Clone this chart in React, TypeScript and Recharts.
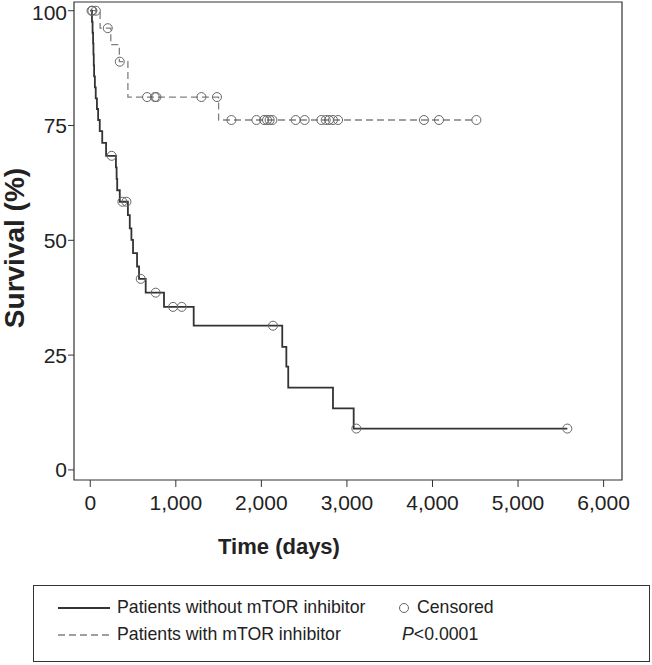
import React from "react";
import {
  ComposedChart,
  Line,
  Scatter,
  XAxis,
  YAxis,
  ReferenceArea,
  Label,
} from "recharts";

// Kaplan-Meier steps, patients without mTOR inhibitor
const noMtorTimes = [0, 20, 27, 33, 37, 41, 45, 54, 64, 78, 92, 111, 140, 185, 300, 308, 315, 345, 440, 462, 481, 500, 547, 570, 648, 862, 1209, 2244, 2292, 2314, 2837, 3079, 5576];
const noMtorSurv = [100, 97.6, 95.2, 92.9, 90.5, 88.1, 85.7, 83.3, 80.9, 78.6, 76.2, 73.8, 71.2, 68.4, 65.9, 63.4, 60.9, 58.4, 55.5, 52.6, 50.1, 47.2, 44.3, 41.6, 38.6, 35.5, 31.4, 26.8, 22.5, 17.9, 13.4, 9.0, 9.0];
const noMtorCensTimes = [15, 250, 376, 423, 590, 765, 968, 1069, 2136, 3110, 5576];
const noMtorCensSurv = [100, 68.4, 58.4, 58.4, 41.6, 38.6, 35.5, 35.5, 31.4, 9.0, 9.0];

// patients with mTOR inhibitor
const mtorTimes = [0, 115, 240, 340, 440, 1500, 4515];
const mtorSurv = [100, 96.2, 92.6, 88.9, 81.2, 76.2, 76.2];
const mtorCensTimes = [25, 65, 205, 345, 664, 754, 773, 1299, 1481, 1650, 1942, 2031, 2066, 2097, 2129, 2401, 2506, 2701, 2752, 2790, 2837, 2896, 3900, 4076, 4513];
const mtorCensSurv = [100, 100, 96.2, 88.9, 81.2, 81.2, 81.2, 81.2, 81.2, 76.2, 76.2, 76.2, 76.2, 76.2, 76.2, 76.2, 76.2, 76.2, 76.2, 76.2, 76.2, 76.2, 76.2, 76.2, 76.2];

const xTicks = [0, 1000, 2000, 3000, 4000, 5000, 6000];
const yTicks = [0, 25, 50, 75, 100];

const zip = (ts: number[], vs: number[]) => ts.map((t, i) => ({ t, v: vs[i] }));

const FONT = "'Liberation Sans', Arial, sans-serif";

const censorShape = (p: any) => (
  <circle cx={p.cx} cy={p.cy} r={4.5} fill="none" stroke="#666" strokeWidth={1} />
);

export default function App() {
  const noMtor = zip(noMtorTimes, noMtorSurv);
  const noMtorCens = zip(noMtorCensTimes, noMtorCensSurv);
  const mtor = zip(mtorTimes, mtorSurv);
  const mtorCens = zip(mtorCensTimes, mtorCensSurv);
  const tickStyle = { fill: "#222", fontSize: 21, fontFamily: FONT };

  return (
    <div style={{ position: "absolute", left: 0, top: 0, width: 652, height: 665, background: "#fff", fontFamily: FONT }}>
      <ComposedChart width={652} height={570} margin={{ top: 2, right: 30, bottom: 0, left: 0 }}>
        <XAxis
          type="number"
          dataKey="t"
          domain={[-190, 6215]}
          ticks={xTicks}
          allowDataOverflow
          tick={tickStyle}
          tickSize={7}
          tickMargin={8}
          tickFormatter={(v: number) => v.toLocaleString("en-US")}
          axisLine={false}
          tickLine={{ stroke: "#333" }}
          height={90}
        >
          <Label
            content={() => (
              <text x={279} y={554} textAnchor="middle" fontSize={22} fontWeight="bold" fontFamily={FONT} fill="#222">
                Time (days)
              </text>
            )}
          />
        </XAxis>
        <YAxis
          type="number"
          dataKey="v"
          domain={[-2.2, 101.9]}
          ticks={yTicks}
          allowDataOverflow
          tick={tickStyle}
          tickSize={6}
          tickMargin={1}
          axisLine={false}
          tickLine={{ stroke: "#333" }}
          width={74}
        >
          <Label
            content={() => (
              <text x={24} y={248} transform="rotate(-90 24 248)" textAnchor="middle" fontSize={28} fontWeight="bold" fontFamily={FONT} fill="#222">
                Survival (%)
              </text>
            )}
          />
        </YAxis>
        <ReferenceArea x1={-190} x2={6215} y1={-2.2} y2={101.9} fill="none" stroke="#333" strokeWidth={1.2} />
        <Line
          data={mtor}
          dataKey="v"
          type="stepAfter"
          stroke="#808080"
          strokeWidth={1.3}
          strokeDasharray="7 4"
          dot={false}
          isAnimationActive={false}
        />
        <Line
          data={noMtor}
          dataKey="v"
          type="stepAfter"
          stroke="#333"
          strokeWidth={1.8}
          dot={false}
          isAnimationActive={false}
        />
        <Scatter data={mtorCens} dataKey="v" shape={censorShape} isAnimationActive={false} />
        <Scatter data={noMtorCens} dataKey="v" shape={censorShape} isAnimationActive={false} />
      </ComposedChart>
      <div
        style={{
          position: "absolute",
          left: 33,
          top: 585,
          width: 617,
          height: 77,
          border: "1px solid #333",
          boxSizing: "border-box",
          fontSize: 17.7,
          color: "#222",
        }}
      >
        <svg width={60} height={56} style={{ position: "absolute", left: 24, top: 8 }}>
          <line x1={0} y1={14} x2={52} y2={14} stroke="#333" strokeWidth={1.8} />
          <line x1={0} y1={41} x2={52} y2={41} stroke="#808080" strokeWidth={1.3} strokeDasharray="7 4" />
        </svg>
        <div style={{ position: "absolute", left: 83, top: 11 }}>Patients without mTOR inhibitor</div>
        <div style={{ position: "absolute", left: 83, top: 38 }}>Patients with mTOR inhibitor</div>
        <svg width={14} height={14} style={{ position: "absolute", left: 363, top: 15 }}>
          <circle cx={7} cy={7} r={4.5} fill="none" stroke="#666" strokeWidth={1} />
        </svg>
        <div style={{ position: "absolute", left: 383, top: 11 }}>Censored</div>
        <div style={{ position: "absolute", left: 368, top: 38 }}>
          <i>P</i>&lt;0.0001
        </div>
      </div>
    </div>
  );
}
